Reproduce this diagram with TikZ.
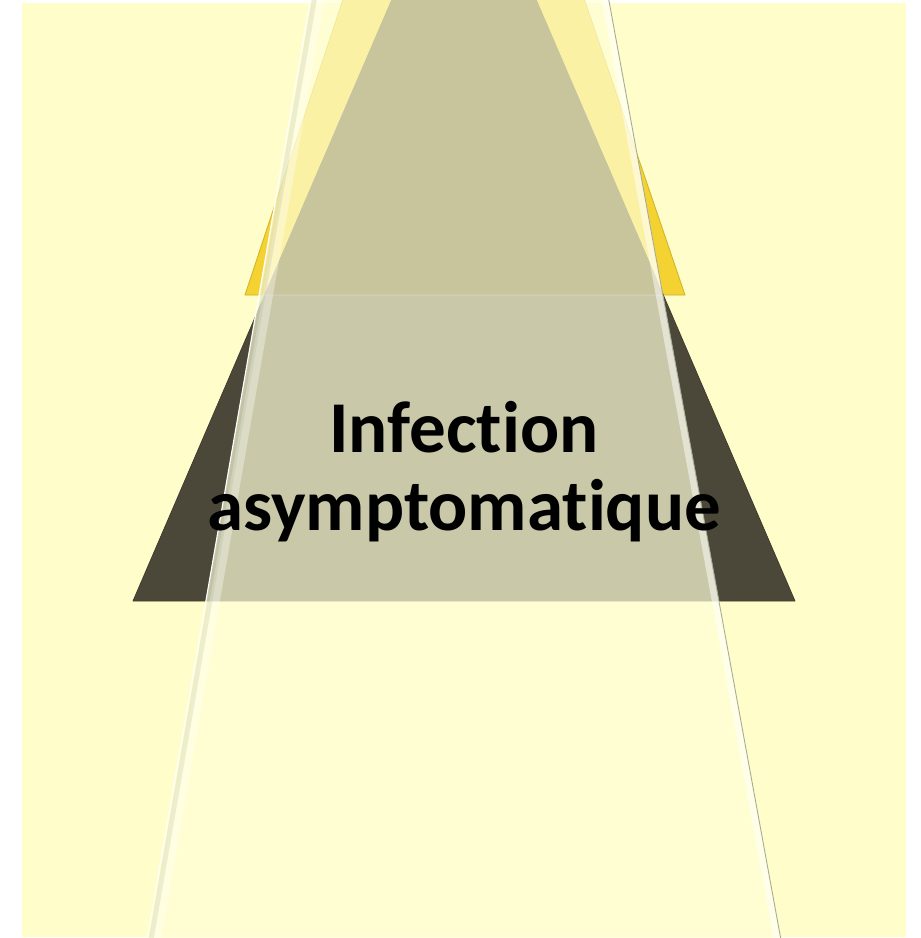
\documentclass[tikz,border=0pt]{standalone}
\usepackage{fontspec}
\setmainfont[Ligatures=NoCommon]{Carlito}
\usepackage{xcolor}
\usepackage{tikz}
\usetikzlibrary{positioning, calc}
\definecolor{paper}{HTML}{FFFDC9}
\definecolor{gold}{HTML}{F4D232}
\definecolor{olive}{HTML}{4B483A}
\definecolor{umber}{HTML}{483A0F}
\definecolor{glass}{HTML}{FFFFD7}
\definecolor{rim}{HTML}{A8AC96}

\begin{document}
\begin{tikzpicture}[
    x=1pt, y=-1pt,
    tier/.style={fill=#1, draw=#1!85!black, line width=0.8pt, line join=round},
    veil/.style={fill=glass, fill opacity=0.70},
    rimline/.style={draw=#1, line width=1.1pt},
    label/.style={font=\fontsize{73}{78}\selectfont\bfseries, text=black,
        align=center, inner sep=0pt},
  ]
  \useasboundingbox (0,0) rectangle (921,938);
  \clip (0,0) rectangle (921,938);
  \fill[paper] (22,3) rectangle (906,937);
  % pyramid tiers
  \coordinate (gtop) at (462,-360);
  \coordinate (gleft) at (245,295);
  \coordinate (gright) at (685,295);
  \coordinate (dtop) at (464,-168);
  \coordinate (dleft) at (133,601);
  \coordinate (dright) at (795,601);
  \path[tier=gold] (gtop) -- (gleft) -- (gright) -- cycle;
  \path[tier=olive] (dtop) -- (dleft) -- (dright) -- cycle;
  \begin{scope}
    \clip (dtop) -- (dleft) -- (dright) -- cycle;
    \fill[umber] (0,-200) rectangle (921,295);
  \end{scope}
  % glass wedge
  \coordinate (wtl) at (312,-10);
  \coordinate (wtr) at (607,-10);
  \coordinate (wbr) at (781,940);
  \coordinate (wbl) at (147,940);
  \fill[veil] (wtl) -- (wtr) -- (wbr) -- (wbl) -- cycle;
  \begin{scope}
    \clip (wtl) -- (wtr) -- (wbr) -- (wbl) -- cycle;
    \draw[white, line width=14pt, opacity=0.5] (wtr) -- (wbr);
    \draw[white, line width=10pt, opacity=0.35] ($(wtl)+(9,0)$) -- ($(wbl)+(9,0)$);
    \draw[rim, line width=5pt, opacity=0.2] ($(wtl)+(4,0)$) -- ($(wbl)+(4,0)$);
    \draw[white, line width=2pt, opacity=0.12] (245,295) -- (685,295);
  \end{scope}
  \draw[rimline=white] (wtl) -- (wbl);
  \draw[rimline=rim, line width=0.9pt] (wtr) -- (wbr);
  \node[label] (title) at (464,472) {Infection\\asymptomatique};
\end{tikzpicture}
\end{document}
